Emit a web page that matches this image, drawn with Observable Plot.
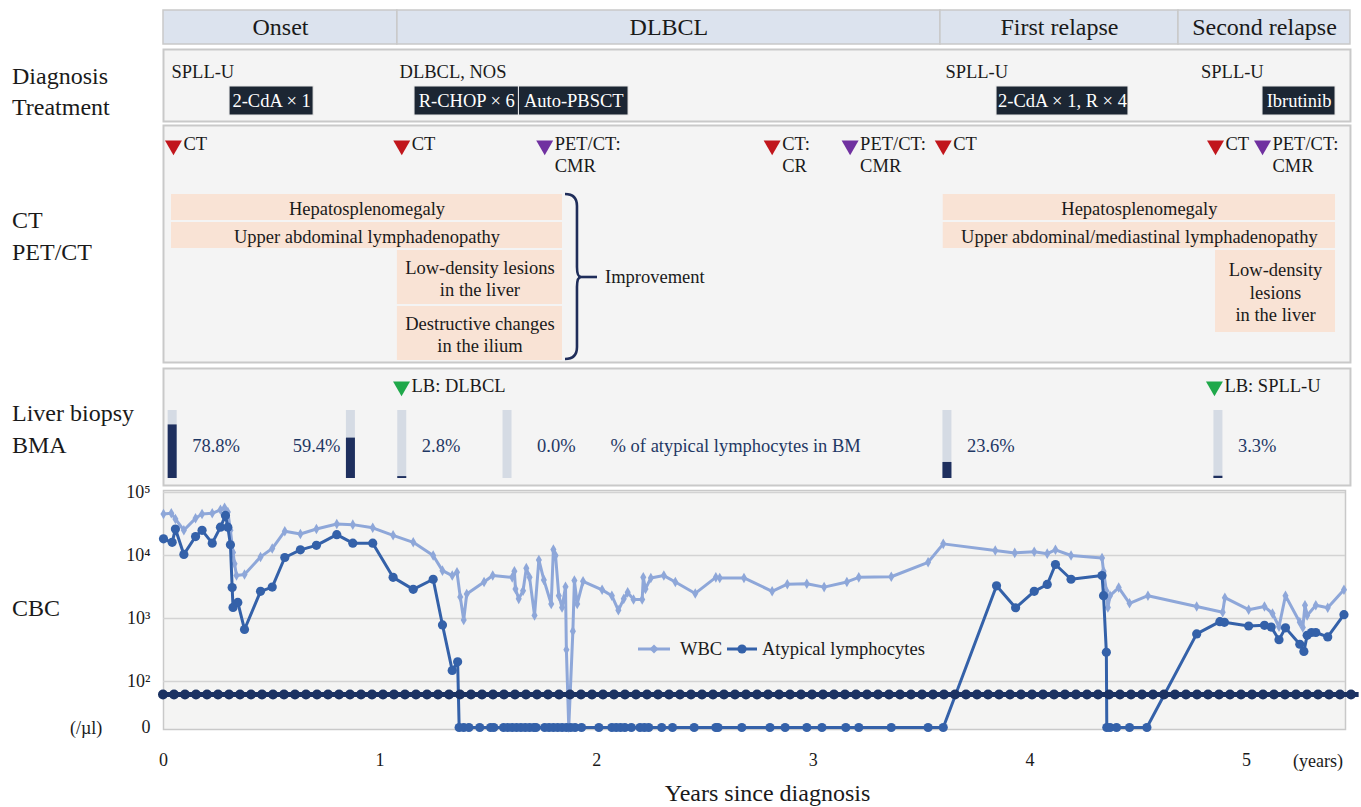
<!DOCTYPE html>
<html><head><meta charset="utf-8">
<script src="https://cdn.jsdelivr.net/npm/d3@7"></script>
<script src="https://cdn.jsdelivr.net/npm/@observablehq/plot@0.6"></script>
<style>
body{margin:0;background:#fff;}
#root{position:relative;width:1361px;height:807px;font-family:"Liberation Serif","Times New Roman",serif;color:#1a1a1a;overflow:hidden;background:#fff;}
.lab{position:absolute;left:12px;font-size:24px;line-height:24px;white-space:nowrap;}
.txt{position:absolute;white-space:nowrap;line-height:20px;}
</style></head><body><div id="root"></div><script>
// ---------------- DATA ----------------
const phaseName  = ["Onset", "DLBCL", "First relapse", "Second relapse"];
const phaseStart = [0, 1.08, 3.587, 4.686];
const phaseEnd   = [1.08, 3.587, 4.686, 5.48];

const diagnosisText = ["SPLL-U", "DLBCL, NOS", "SPLL-U", "SPLL-U"];
const diagnosisYear = [0.037, 1.09, 3.61, 4.79];

const treatmentName  = ["2-CdA × 1", "R-CHOP × 6", "Auto-PBSCT", "2-CdA × 1, R × 4", "Ibrutinib"];
const treatmentStart = [0.305, 1.159, 1.641, 3.846, 5.074];
const treatmentEnd   = [0.693, 1.641, 2.147, 4.455, 5.411];

const imagingYear  = [0.046, 1.10, 1.76, 2.81, 3.17, 3.60, 4.857, 5.074];
const imagingType  = ["CT", "CT", "PET/CT", "CT", "PET/CT", "CT", "CT", "PET/CT"];
const imagingLabel = ["CT", "CT", "PET/CT:\nCMR", "CT:\nCR", "PET/CT:\nCMR", "CT", "CT", "PET/CT:\nCMR"];

const findingText  = ["Hepatosplenomegaly", "Upper abdominal lymphadenopathy", "Low-density lesions\nin the liver",
                      "Destructive changes\nin the ilium", "Hepatosplenomegaly",
                      "Upper abdominal/mediastinal lymphadenopathy", "Low-density\nlesions\nin the liver"];
const findingStart = [0.037, 0.037, 1.08, 1.08, 3.60, 3.60, 4.857];
const findingEnd   = [1.842, 1.842, 1.842, 1.842, 5.411, 5.411, 5.411];
const findingLane  = [0, 1, 2, 4, 0, 1, 2];
const improvementLabel = "Improvement";

const biopsyYear  = [1.099, 4.852];
const biopsyLabel = ["LB: DLBCL", "LB: SPLL-U"];

const bmaYear    = [0.04, 0.863, 1.10, 1.586, 3.617, 4.868];
const bmaPercent = [78.8, 59.4, 2.8, 0.0, 23.6, 3.3];
const bmaNote = "% of atypical lymphocytes in BM";
const bmaNoteYear = 2.064;

const wbcYear = [0, 0.036, 0.055, 0.094, 0.148, 0.178, 0.225, 0.263, 0.282, 0.297, 0.309, 0.321, 0.328, 0.337, 0.374,
  0.448, 0.502, 0.56, 0.632, 0.706, 0.80, 0.874, 0.966, 1.06, 1.153, 1.245, 1.288, 1.333, 1.355, 1.37, 1.386, 1.40,
  1.48, 1.52, 1.61, 1.62, 1.625, 1.64, 1.66, 1.675, 1.69, 1.713, 1.733, 1.756, 1.79, 1.80, 1.81, 1.825, 1.84, 1.856,
  1.86, 1.871, 1.89, 1.897, 1.91, 1.937, 2.025, 2.07, 2.10, 2.125, 2.143, 2.17, 2.21, 2.215, 2.225, 2.25, 2.31, 2.363,
  2.455, 2.55, 2.568, 2.68, 2.81, 2.88, 2.97, 3.05, 3.155, 3.21, 3.36, 3.53, 3.60, 3.84, 3.93, 4.02, 4.08, 4.118,
  4.19, 4.333, 4.34, 4.353, 4.36, 4.37, 4.41, 4.46, 4.545, 4.77, 4.89, 4.90, 5.01, 5.083, 5.12, 5.15, 5.18, 5.246,
  5.26, 5.27, 5.28, 5.32, 5.375, 5.45];
const wbcValue = [45700, 46800, 38000, 25100, 38900, 45700, 46800, 53100, 57100, 49000, 25100, 11200, 7400, 4800, 5000,
  9500, 12900, 24300, 21900, 26300, 31600, 30900, 27500, 20900, 16200, 10000, 5750, 4800, 5400, 2200, 950, 2450,
  3800, 4800, 4500, 5600, 2950, 2050, 2750, 6300, 4500, 1120, 8500, 4100, 1700, 12400, 10000, 2300, 1500, 3200,
  320, 0, 630, 4000, 1700, 3900, 2850, 2300, 1350, 2050, 2600, 2000, 2000, 4500, 2950, 4400, 4800, 3800,
  2500, 4500, 4400, 4400, 2700, 3500, 3550, 3150, 3800, 4500, 4600, 7800, 15300, 12000, 11000, 11500, 10700, 12300,
  10000, 9100, 5600, 2750, 1500, 2300, 3100, 1740, 2300, 1550, 1260, 2140, 1380, 1550, 1200, 740, 2300, 870,
  720, 1620, 1120, 1620, 1480, 2850];

const atypicalYear = [0, 0.04, 0.055, 0.094, 0.148, 0.178, 0.225, 0.263, 0.286, 0.297, 0.309, 0.317, 0.321, 0.343,
  0.374, 0.448, 0.502, 0.56, 0.632, 0.706, 0.80, 0.874, 0.966, 1.06, 1.153, 1.245, 1.288, 1.333, 1.358, 1.365,
  1.386, 1.41, 1.46, 1.51, 1.525, 1.57, 1.59, 1.61, 1.63, 1.65, 1.67, 1.69, 1.71, 1.72, 1.76, 1.78, 1.80, 1.82,
  1.84, 1.86, 1.88, 1.90, 1.93, 2.01, 2.07, 2.09, 2.11, 2.13, 2.16, 2.20, 2.22, 2.24, 2.30, 2.35, 2.45, 2.55, 2.56,
  2.67, 2.80, 2.87, 2.97, 3.04, 3.15, 3.21, 3.36, 3.53, 3.60, 3.846, 3.934, 4.02, 4.08, 4.118, 4.19, 4.333, 4.34,
  4.353, 4.355, 4.37, 4.40, 4.46, 4.54, 4.77, 4.877, 4.898, 5.01, 5.083, 5.114, 5.15, 5.18, 5.246, 5.265, 5.28,
  5.30, 5.32, 5.375, 5.45];
const atypicalValue = [18400, 16200, 26300, 10400, 20000, 25100, 15700, 28200, 43200, 28200, 14800, 3100, 1500, 1800,
  670, 2700, 3150, 9300, 12300, 14500, 21400, 15700, 15700, 4500, 2900, 4200, 790, 150, 205, 0,
  0, 0, 0, 0, 0, 0, 0, 0, 0, 0, 0, 0, 0, 0, 0, 0, 0, 0,
  0, 0, 0, 0, 0, 0, 0, 0, 0, 0, 0, 0, 0, 0, 0, 0, 0, 0, 0,
  0, 0, 0, 0, 0, 0, 0, 0, 0, 0, 3300, 1480, 2700, 3470, 7200, 4200, 4800, 2300,
  290, 0, 0, 0, 0, 0, 570, 890, 870, 760, 780, 730, 460, 710, 390, 300, 540,
  600, 600, 510, 1150];

const yearTicks = [0, 1, 2, 3, 4, 5];
const cbcTicks = [2, 3, 4, 5];

// ---------------- STYLE / LAYOUT ----------------
const FONT = '"Liberation Serif","Times New Roman",serif';
const FS = 18.5;
const PANEL_BG = "#f4f4f4", PANEL_STROKE = "#c9c9c9";
const NAVY = "#1b3262";
const WBC_COLOR = "#8ea7d9", ATY_COLOR = "#3461a9";
const W = 1361, ML = 163;
const PX_PER_YEAR = 216.6;
const TOP_XMAX = 5.48, CBC_XMAX = 5.457;
const ZERO_LEVEL = 1.27, BREAK_LEVEL = 1.794;

const root = document.getElementById("root");
function place(el, top) { el.style.position = "absolute"; el.style.left = "0px"; el.style.top = top + "px"; root.appendChild(el); }
const baseStyle = {background: "transparent", fontFamily: FONT, fontSize: FS + "px", color: "#1a1a1a", overflow: "visible"};
const topX = {domain: [0, TOP_XMAX], axis: null};
const topMR = W - ML - TOP_XMAX * PX_PER_YEAR;

// ---------------- HEADER (phases) ----------------
const phases = phaseName.map((name, i) => ({name, x1: phaseStart[i], x2: phaseEnd[i], mid: (phaseStart[i] + phaseEnd[i]) / 2}));
place(Plot.plot({
  width: W, height: 34, marginLeft: ML, marginRight: topMR, marginTop: 0, marginBottom: 0,
  x: topX, style: baseStyle,
  marks: [
    Plot.rect(phases, {x1: "x1", x2: "x2", fill: "#dce3ee", stroke: PANEL_STROKE, strokeWidth: 1.5}),
    Plot.text(phases, {x: "mid", text: "name", fontSize: 24, fill: "#1a1a1a"})
  ]
}), 10);

// ---------------- DIAGNOSIS / TREATMENT ----------------
const diagnoses = diagnosisText.map((text, i) => ({text, x: diagnosisYear[i]}));
const treatments = treatmentName.map((name, i) => ({name, x1: treatmentStart[i], x2: treatmentEnd[i], mid: (treatmentStart[i] + treatmentEnd[i]) / 2}));
place(Plot.plot({
  width: W, height: 72, marginLeft: ML, marginRight: topMR, marginTop: 0, marginBottom: 0,
  x: topX, y: {type: "band", domain: ["Diagnosis", "Treatment"], range: [8, 66], padding: 0, axis: null},
  style: baseStyle,
  marks: [
    Plot.frame({fill: PANEL_BG, stroke: PANEL_STROKE, strokeWidth: 2}),
    Plot.text(diagnoses, {x: "x", y: () => "Diagnosis", text: "text", textAnchor: "start", fontSize: FS, fill: "#1a1a1a"}),
    Plot.barX(treatments, {x1: "x1", x2: "x2", y: () => "Treatment", fill: "#1c2633", stroke: "#e8e8e8", strokeWidth: 1}),
    Plot.text(treatments, {x: "mid", y: () => "Treatment", text: "name", fill: "white", fontSize: FS})
  ]
}), 49);

// ---------------- CT / PET-CT ----------------
const LANE_TOP = -68 / 28, LANE_BOTTOM = 169 / 28, MARKER_LANE = -1.714;
const imaging = imagingYear.map((x, i) => ({x, type: imagingType[i], label: imagingLabel[i]}));
const findings = findingText.map((text, i) => {
  const lines = text.split("\n").length;
  return {text, x1: findingStart[i], x2: findingEnd[i], y1: findingLane[i], y2: findingLane[i] + lines,
          mx: (findingStart[i] + findingEnd[i]) / 2, my: findingLane[i] + lines / 2};
});
const leftGroup = findings.slice(0, 4);
const braceSpec = [{x: d3.max(leftGroup, d => d.x2), y1: d3.min(leftGroup, d => d.y1), y2: d3.max(leftGroup, d => d.y2)}];
function braceMark(index, scales) {
  const b = braceSpec[0];
  const x0 = scales.x(b.x) + 3, x1 = x0 + 12, xt = x0 + 22;
  const yT = scales.y(b.y1) + 1, yB = scales.y(b.y2) - 2, yM = scales.y((b.y1 + b.y2) / 2);
  const g = d3.create("svg:g");
  g.append("path")
    .attr("d", `M${x0},${yT} Q${x1},${yT} ${x1},${yT + 12} L${x1},${yM - 10} Q${x1},${yM} ${xt - 6},${yM} Q${x1},${yM} ${x1},${yM + 10} L${x1},${yB - 12} Q${x1},${yB} ${x0},${yB}`)
    .attr("fill", "none").attr("stroke", "#1f2d5a").attr("stroke-width", 2.6);
  g.append("line").attr("x1", xt - 8).attr("x2", xt + 10).attr("y1", yM).attr("y2", yM)
    .attr("stroke", "#1f2d5a").attr("stroke-width", 2.6);
  g.append("text").attr("x", xt + 18).attr("y", yM).attr("dy", "0.35em").attr("text-anchor", "start")
    .attr("font-size", FS).attr("fill", "#1a1a1a").text(improvementLabel);
  return g.node();
}
place(Plot.plot({
  width: W, height: 237, marginLeft: ML, marginRight: topMR, marginTop: 0, marginBottom: 0,
  x: topX, y: {domain: [LANE_TOP, LANE_BOTTOM], range: [0, 237], axis: null},
  color: {domain: ["CT", "PET/CT"], range: ["#c1161c", "#7031a0"]},
  style: baseStyle,
  marks: [
    Plot.frame({fill: PANEL_BG, stroke: PANEL_STROKE, strokeWidth: 2}),
    Plot.rect(findings, {x1: "x1", x2: "x2", y1: "y1", y2: "y2", fill: "#f9e3d5", insetTop: 1, insetBottom: 1}),
    Plot.text(findings, {x: "mx", y: "my", text: "text", fontSize: FS, lineHeight: 1.2, fill: "#1a1a1a"}),
    Plot.dot(imaging, {x: "x", y: () => MARKER_LANE, symbol: "triangle", rotate: 180, r: 6.3, fill: "type", stroke: null}),
    Plot.text(imaging, {x: "x", y: () => MARKER_LANE, text: "label", textAnchor: "start", lineAnchor: "top", dx: 10, dy: -11,
      lineHeight: 1.2, fontSize: FS, fill: "#1a1a1a"}),
    braceMark
  ]
}), 125);

// ---------------- LIVER BIOPSY / BMA ----------------
const bma = bmaYear.map((x, i) => ({x, pct: bmaPercent[i], label: bmaPercent[i].toFixed(1) + "%", before: i === 1}));
const biopsies = biopsyYear.map((x, i) => ({x, label: biopsyLabel[i]}));
const BMA_LABEL_LEVEL = 0.47, BIOPSY_LEVEL = 1.353;
place(Plot.plot({
  width: W, height: 117, marginLeft: ML, marginRight: topMR, marginTop: 0, marginBottom: 0,
  x: topX, y: {domain: [0, 1], range: [110, 42], axis: null},
  style: baseStyle,
  marks: [
    Plot.frame({fill: PANEL_BG, stroke: PANEL_STROKE, strokeWidth: 2}),
    Plot.ruleX(bma, {x: "x", y1: 0, y2: 1, stroke: "#d5dbe4", strokeWidth: 9}),
    Plot.ruleX(bma.filter(d => d.pct > 0), {x: "x", y1: 0, y2: d => d.pct / 100, stroke: "#1e2f5e", strokeWidth: 9}),
    Plot.text(bma.filter(d => !d.before && d.pct > 0), {x: "x", y: () => BMA_LABEL_LEVEL, text: "label", textAnchor: "start", dx: 20, fontSize: FS, fill: "#1f3864"}),
    Plot.text(bma.filter(d => d.pct === 0), {x: "x", y: () => BMA_LABEL_LEVEL, text: "label", textAnchor: "start", dx: 30, fontSize: FS, fill: "#1f3864"}),
    Plot.text(bma.filter(d => d.before), {x: "x", y: () => BMA_LABEL_LEVEL, text: "label", textAnchor: "end", dx: -10, fontSize: FS, fill: "#1f3864"}),
    Plot.text([bmaNote], {x: () => bmaNoteYear, y: () => BMA_LABEL_LEVEL, text: d => d, textAnchor: "start", fontSize: FS, fill: "#1f3864"}),
    Plot.dot(biopsies, {x: "x", y: () => BIOPSY_LEVEL, symbol: "triangle", rotate: 180, r: 6.3, fill: "#1fa84a", stroke: null}),
    Plot.text(biopsies, {x: "x", y: () => BIOPSY_LEVEL, text: "label", textAnchor: "start", dx: 10, fontSize: FS, fill: "#1a1a1a"})
  ]
}), 368);

// ---------------- CBC ----------------
const toLevel = v => v > 0 ? Math.log10(v) : ZERO_LEVEL;
const wbc = wbcYear.map((t, i) => ({t, v: wbcValue[i]}));
const atypical = atypicalYear.map((t, i) => ({t, v: atypicalValue[i]}));
const sup = {"2": "²", "3": "³", "4": "⁴", "5": "⁵"};
const cbcPlot = Plot.plot({
  width: W, height: 327, marginLeft: ML, marginRight: W - ML - CBC_XMAX * PX_PER_YEAR, marginTop: 10, marginBottom: 78,
  x: {domain: [0, CBC_XMAX]},
  y: {domain: [5 - 237 / 63, 5 + 2 / 63]},
  style: baseStyle,
  marks: [
    Plot.frame({fill: "#f4f4f3", stroke: PANEL_STROKE, strokeWidth: 1.5}),
    Plot.ruleY(cbcTicks, {stroke: "#d3d3d3", strokeWidth: 1.5}),
    Plot.line(wbc, {x: "t", y: d => toLevel(d.v), stroke: WBC_COLOR, strokeWidth: 3}),
    Plot.dot(wbc, {x: "t", y: d => toLevel(d.v), symbol: "diamond", r: 3.2, fill: WBC_COLOR, stroke: null}),
    Plot.line(atypical, {x: "t", y: d => toLevel(d.v), stroke: ATY_COLOR, strokeWidth: 3}),
    Plot.dot(atypical, {x: "t", y: d => toLevel(d.v), r: 4.6, fill: ATY_COLOR, stroke: null}),
    Plot.ruleY([BREAK_LEVEL], {x1: 0, x2: 5.52, stroke: NAVY, strokeWidth: 5}),
    Plot.ruleY([BREAK_LEVEL], {x1: 0, x2: 5.52, stroke: NAVY, strokeWidth: 10, strokeDasharray: "0,11", strokeLinecap: "round"}),
    Plot.axisX({ticks: yearTicks, tickSize: 0, tickPadding: 24, label: null, tickFormat: d => String(d), fontSize: 18}),
    Plot.axisY({ticks: [ZERO_LEVEL, ...cbcTicks], tickSize: 0, tickPadding: 13, label: null, fontSize: 18,
      tickFormat: d => d === ZERO_LEVEL ? "0" : "10" + sup[String(d)]})
  ]
});
place(cbcPlot, 480);

// ---------------- LEGEND & LABELS (HTML) ----------------
const legend = document.createElementNS("http://www.w3.org/2000/svg", "svg");
legend.setAttribute("width", "330"); legend.setAttribute("height", "26");
legend.style.position = "absolute"; legend.style.left = "630px"; legend.style.top = "636px";
legend.innerHTML = `
  <line x1="8" x2="40" y1="13" y2="13" stroke="${WBC_COLOR}" stroke-width="3"/>
  <path d="M24,8.5 L28.5,13 L24,17.5 L19.5,13 Z" fill="${WBC_COLOR}"/>
  <text x="50" y="19" font-family='${FONT}' font-size="${FS}" fill="#1a1a1a">WBC</text>
  <line x1="97" x2="127" y1="13" y2="13" stroke="${ATY_COLOR}" stroke-width="3"/>
  <circle cx="112" cy="13" r="4.6" fill="${ATY_COLOR}"/>
  <text x="132" y="19" font-family='${FONT}' font-size="${FS}" fill="#1a1a1a">Atypical lymphocytes</text>`;
root.appendChild(legend);

const rowLabels = [["Diagnosis", 76], ["Treatment", 107], ["CT", 220], ["PET/CT", 252], ["Liver biopsy", 413], ["BMA", 445], ["CBC", 608]];
for (const [t, cy] of rowLabels) {
  const d = document.createElement("div"); d.className = "lab"; d.textContent = t; d.style.top = (cy - 12) + "px"; root.appendChild(d);
}
const extra = [["(/µl)", 70, 728, 18], ["(years)", 1293, 761, 18]];
for (const [t, x, cy, fs] of extra) {
  const d = document.createElement("div"); d.className = "txt"; d.textContent = t;
  d.style.left = x + "px"; d.style.top = (cy - 10) + "px"; d.style.fontSize = fs + "px"; root.appendChild(d);
}
const title = document.createElement("div");
title.textContent = "Years since diagnosis";
title.style.cssText = "position:absolute;left:0;width:1535px;text-align:center;top:780px;font-size:24px;line-height:26px;";
root.appendChild(title);
</script></body></html>
